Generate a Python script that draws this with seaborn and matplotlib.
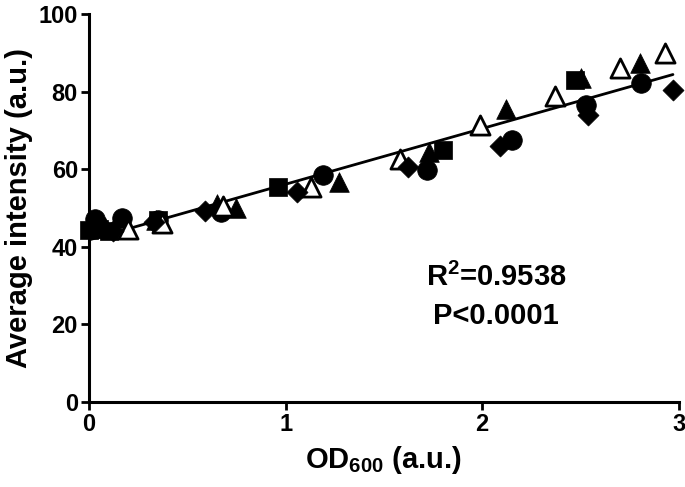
import numpy as np
import pandas as pd
import seaborn as sns
import matplotlib.pyplot as plt

# values
sq_x = [0.00, 0.05, 0.10, 0.35, 0.96, 1.80, 2.47]
sq_y = [44.3, 44.6, 44.0, 47.0, 55.3, 65.0, 83.0]

ci_x = [0.03, 0.17, 0.35, 0.67, 1.19, 1.72, 2.15, 2.53, 2.81]
ci_y = [47.2, 47.4, 47.0, 49.0, 58.5, 59.8, 67.5, 76.5, 82.3]

tr_x = [0.08, 0.34, 0.65, 0.75, 1.27, 1.73, 2.12, 2.50, 2.80]
tr_y = [45.0, 46.8, 51.0, 50.0, 56.7, 64.5, 75.5, 83.5, 87.5]

ot_x = [0.20, 0.37, 0.68, 1.13, 1.58, 1.99, 2.37, 2.70, 2.93]
ot_y = [44.5, 46.2, 50.5, 55.5, 62.5, 71.5, 79.0, 86.0, 90.0]

di_x = [0.05, 0.12, 0.33, 0.59, 1.06, 1.62, 2.09, 2.54, 2.97]
di_y = [45.0, 44.0, 46.5, 49.3, 54.0, 60.5, 66.0, 74.0, 80.5]

sns.set_style("ticks")
plt.rcParams['font.family'] = ['Liberation Sans', 'DejaVu Sans']
plt.rcParams['font.weight'] = 'bold'
plt.rcParams['text.color'] = 'black'
plt.rcParams['axes.labelcolor'] = 'black'
plt.rcParams['xtick.color'] = 'black'
plt.rcParams['ytick.color'] = 'black'
plt.rcParams['axes.edgecolor'] = 'black'
plt.rcParams['mathtext.fontset'] = 'custom'
plt.rcParams['mathtext.bf'] = 'Liberation Sans:bold'
plt.rcParams['mathtext.rm'] = 'Liberation Sans'

df = pd.concat([
    pd.DataFrame({'x': sq_x, 'y': sq_y, 'g': 'sq'}),
    pd.DataFrame({'x': ci_x, 'y': ci_y, 'g': 'ci'}),
    pd.DataFrame({'x': tr_x, 'y': tr_y, 'g': 'tr'}),
    pd.DataFrame({'x': ot_x, 'y': ot_y, 'g': 'ot'}),
    pd.DataFrame({'x': di_x, 'y': di_y, 'g': 'di'}),
], ignore_index=True)

fig = plt.figure(figsize=(6.85, 4.87), dpi=100)
ax = fig.add_axes([0.130, 0.175, 0.861, 0.796])

sns.regplot(data=df, x='x', y='y', scatter=False, ci=None, ax=ax,
            line_kws={'color': 'black', 'lw': 2})

styles = {'sq': ('s', 'black', 170), 'ci': ('o', 'black', 200),
          'tr': ('^', 'black', 200), 'ot': ('^', 'white', 190),
          'di': ('D', 'black', 115)}
for g, (m, fc, s) in styles.items():
    sub = df[df['g'] == g]
    sns.scatterplot(data=sub, x='x', y='y', marker=m, color=fc, edgecolor='black',
                    linewidth=2 if fc == 'white' else 0.5, s=s, ax=ax, zorder=3,
                    clip_on=False)

ax.set_xlim(0, 3)
ax.set_ylim(0, 100)
ax.set_xticks([0, 1, 2, 3])
ax.set_yticks([0, 20, 40, 60, 80, 100])
sns.despine(ax=ax)
for sp in ['left', 'bottom']:
    ax.spines[sp].set_linewidth(2.2)
ax.tick_params(width=2, length=6, labelsize=17, pad=2)
for lab in ax.get_xticklabels() + ax.get_yticklabels():
    lab.set_fontweight('bold')

ax.set_xlabel('OD$_{\\mathbf{600}}$ (a.u.)', fontsize=21, fontweight='bold', labelpad=6)
ax.set_ylabel('Average intensity (a.u.)', fontsize=21, fontweight='bold', labelpad=4)
ax.text(2.07, 32, 'R$^{\\mathbf{2}}$=0.9538', fontsize=21, fontweight='bold',
        ha='center', va='center')
ax.text(2.07, 22.2, 'P<0.0001', fontsize=21, fontweight='bold',
        ha='center', va='center')

fig.savefig('out.png', dpi=100)
